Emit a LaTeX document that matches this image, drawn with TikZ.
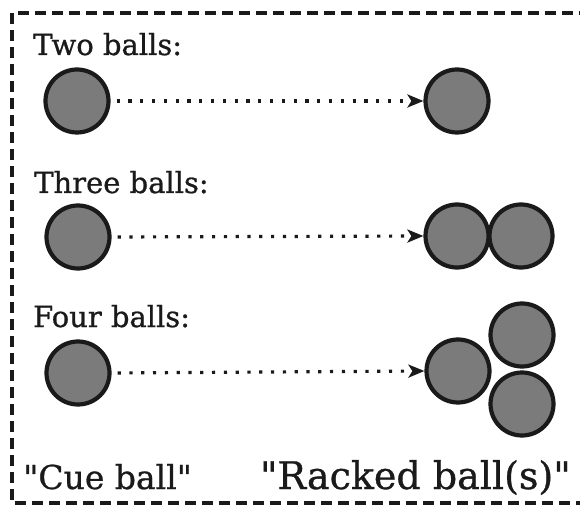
\documentclass[tikz,border=0pt]{standalone}
\usepackage{fontspec}
\setmainfont{DejaVu Serif}[Ligatures=TeXOff,FakeBold=0.8]
\usetikzlibrary{arrows.meta}
\definecolor{ballfill}{HTML}{7B7B7B}
\definecolor{ink}{HTML}{1A1A1A}
\tikzset{
  ball/.style={circle,draw=ink,line width=4.2pt,fill=ballfill,minimum size=63pt,inner sep=0pt},
  rowlabel/.style={anchor=base west,inner sep=0pt,font=\fontsize{29}{34}\selectfont,text=ink},
  dotline/.style={line width=3.2pt,draw=ink,dash pattern=on 3.2pt off 8.6pt,shorten <=6pt,
    -{Stealth[length=16pt,width=13pt,inset=4pt]}},
  frame/.style={line width=3.5pt,draw=ink,dash pattern=on 11pt off 6pt}
}
\begin{document}
\begin{tikzpicture}[x=1pt,y=-1pt]
\useasboundingbox (0,0) rectangle (580,510);
\draw[frame] (590,13) -- (12,13) -- (12,503) -- (590,503);
% labels
\node[rowlabel] (l1) at (33,55) {Two balls:};
\node[rowlabel] (l2) at (34,193) {Three balls:};
\node[rowlabel] (l3) at (33,327) {Four balls:};
% row 1
\node[ball] (c1) at (77,101) {};
\node[ball] (t1) at (457,101) {};
\draw[dotline] (c1.east) -- (t1.west);
% row 2
\node[ball] (c2) at (78,237) {};
\node[ball] (t2a) at (457,236) {};
\node[ball] (t2b) at (521,236) {};
\draw[dotline] (c2.east) -- (t2a.west);
% row 3
\node[ball] (c3) at (78,373) {};
\node[ball] (t3a) at (458,371) {};
\node[ball] (t3b) at (522,335) {};
\node[ball] (t3c) at (522,404) {};
\draw[dotline] (c3.east) -- (t3a.west);
% bottom captions
\node[anchor=base west,inner sep=0pt,font=\fontsize{33}{38}\selectfont,text=ink] (cue) at (23,489) {"Cue ball"};
\node[anchor=base east,inner sep=0pt,font=\fontsize{38}{44}\selectfont,text=ink] (racked) at (571,489) {"Racked ball(s)"};
\end{tikzpicture}
\end{document}
